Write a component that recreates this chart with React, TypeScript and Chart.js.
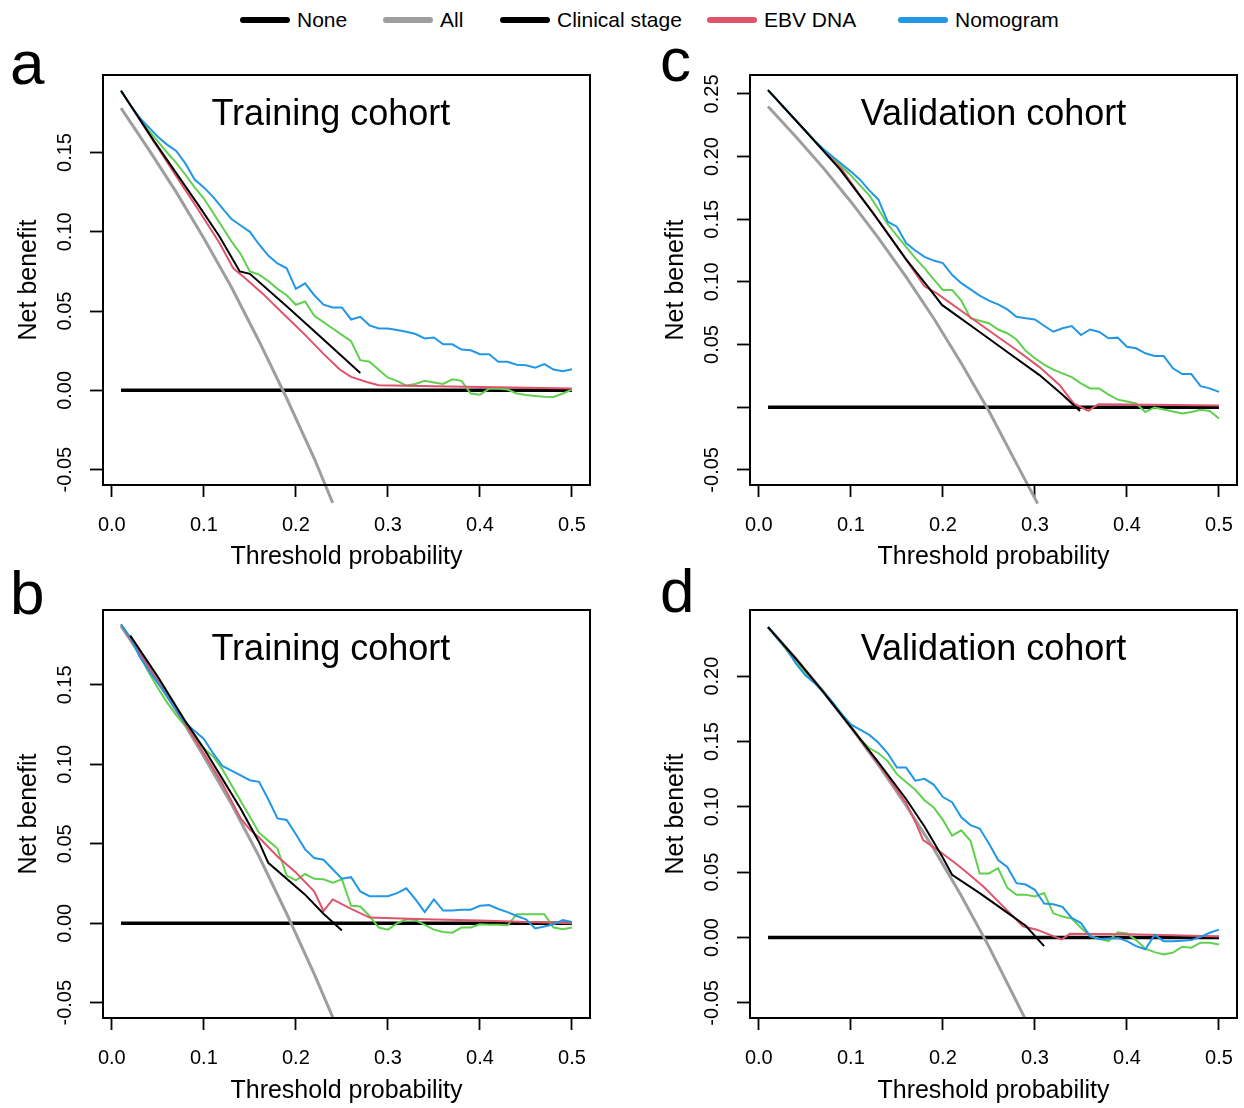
import { useEffect, useRef } from 'react';
import { Chart, registerables } from 'chart.js';

Chart.register(...registerables);

const FONT = '"Liberation Sans", Arial, Helvetica, sans-serif';
const BLACK = '#000000';
const GRAY = '#9E9E9E';
const RED = '#DF536B';
const GREEN = '#61D04F';
const BLUE = '#2297E6';

// threshold grid for the stepwise model curves
const thresholds = [
  0.01, 0.02, 0.03, 0.04, 0.05, 0.06, 0.07, 0.08, 0.09, 0.1,
  0.11, 0.12, 0.13, 0.14, 0.15, 0.16, 0.17, 0.18, 0.19, 0.2,
  0.21, 0.22, 0.23, 0.24, 0.25, 0.26, 0.27, 0.28, 0.29, 0.3,
  0.31, 0.32, 0.33, 0.34, 0.35, 0.36, 0.37, 0.38, 0.39, 0.4,
  0.41, 0.42, 0.43, 0.44, 0.45, 0.46, 0.47, 0.48, 0.49, 0.5,
];

const xTicks = [0, 0.1, 0.2, 0.3, 0.4, 0.5];
const xLabels = ['0.0', '0.1', '0.2', '0.3', '0.4', '0.5'];

const noneX = [0.01, 0.5];
const noneY = [0, 0];

// a: training cohort
const aAllX = [0.01, 0.04, 0.07, 0.1, 0.13, 0.16, 0.19, 0.22, 0.24];
const aAllY = [0.178, 0.152, 0.125, 0.096, 0.065, 0.031, -0.005, -0.043, -0.071];
const aClinX = [0.01, 0.045, 0.07, 0.095, 0.117, 0.139, 0.15, 0.19, 0.23, 0.27];
const aClinY = [0.189, 0.158, 0.137, 0.116, 0.097, 0.075, 0.0735, 0.053, 0.032, 0.011];
const aEbvX = [0.01, 0.03, 0.05, 0.07, 0.095, 0.117, 0.132, 0.143, 0.164, 0.186, 0.21, 0.23, 0.248, 0.26, 0.277, 0.29, 0.35, 0.42, 0.5];
const aEbvY = [0.189, 0.171, 0.153, 0.135, 0.113, 0.093, 0.077, 0.0717, 0.061, 0.0485, 0.035, 0.023, 0.013, 0.0085, 0.0053, 0.0032, 0.0026, 0.002, 0.0012];
const aNomoY = [
  0.189, 0.18, 0.172, 0.166, 0.16, 0.155, 0.151, 0.143, 0.133, 0.128,
  0.122, 0.115, 0.108, 0.104, 0.1, 0.092, 0.085, 0.08, 0.077, 0.064,
  0.0675, 0.06, 0.054, 0.0523, 0.0523, 0.0447, 0.0464, 0.041, 0.039, 0.039,
  0.038, 0.037, 0.0355, 0.0327, 0.0333, 0.029, 0.029, 0.0257, 0.0253, 0.0228,
  0.0228, 0.018, 0.018, 0.0162, 0.0158, 0.0143, 0.0165, 0.0131, 0.012, 0.0133,
];
const aGreenY = [
  0.189, 0.18, 0.172, 0.164, 0.157, 0.15, 0.1435, 0.136, 0.128, 0.121,
  0.112, 0.103, 0.094, 0.086, 0.075, 0.073, 0.069, 0.064, 0.06, 0.054,
  0.056, 0.047, 0.043, 0.039, 0.035, 0.031, 0.019, 0.018, 0.013, 0.008,
  0.006, 0.003, 0.004, 0.006, 0.005, 0.004, 0.007, 0.006, -0.002, -0.0027,
  0.001, 0.001, 0.0005, -0.002, -0.003, -0.0035, -0.004, -0.0042, -0.002, 0.0005,
];

// b: training cohort
const bAllX = [0.01, 0.04, 0.07, 0.1, 0.13, 0.16, 0.19, 0.22, 0.24];
const bAllY = [0.187, 0.161, 0.134, 0.105, 0.075, 0.042, 0.006, -0.032, -0.059];
const bClinX = [0.02, 0.05, 0.08, 0.1, 0.12, 0.14, 0.16, 0.17, 0.19, 0.21, 0.23, 0.25];
const bClinY = [0.181, 0.155, 0.127, 0.11, 0.091, 0.072, 0.051, 0.038, 0.028, 0.018, 0.006, -0.0045];
const bEbvX = [0.01, 0.04, 0.07, 0.1, 0.12, 0.14, 0.15, 0.16, 0.18, 0.2, 0.22, 0.23, 0.24, 0.26, 0.28, 0.34, 0.4, 0.45, 0.5];
const bEbvY = [0.188, 0.161, 0.134, 0.107, 0.088, 0.066, 0.059, 0.054, 0.042, 0.032, 0.02, 0.0077, 0.015, 0.009, 0.0036, 0.0025, 0.0018, 0.0008, 0];
const bNomoY = [
  0.188, 0.18, 0.168, 0.159, 0.151, 0.143, 0.134, 0.126, 0.121, 0.116,
  0.107, 0.099, 0.096, 0.093, 0.09, 0.089, 0.078, 0.066, 0.065, 0.056,
  0.0465, 0.041, 0.04, 0.034, 0.028, 0.029, 0.02, 0.017, 0.017, 0.017,
  0.019, 0.022, 0.015, 0.007, 0.015, 0.008, 0.008, 0.0085, 0.0085, 0.011,
  0.0115, 0.009, 0.007, 0.0046, 0.0025, -0.0033, -0.002, -0.0006, 0.0021, 0.0008,
];
const bGreenY = [
  0.188, 0.18, 0.169, 0.158, 0.148, 0.139, 0.131, 0.124, 0.117, 0.11,
  0.105, 0.097, 0.087, 0.077, 0.067, 0.057, 0.052, 0.047, 0.03, 0.027,
  0.031, 0.028, 0.0277, 0.0256, 0.0277, 0.011, 0.0105, 0.0046, -0.0027, -0.004,
  0, 0.0025, 0.002, -0.001, -0.004, -0.0055, -0.0059, -0.0027, -0.0027, -0.0006,
  -0.001, -0.001, -0.0013, 0.0057, 0.0057, 0.0057, 0.0057, -0.0027, -0.0038, -0.0027,
];

// c: validation cohort
const cAllX = [0.01, 0.04, 0.07, 0.1, 0.13, 0.16, 0.19, 0.22, 0.25, 0.28, 0.303];
const cAllY = [0.24, 0.216, 0.191, 0.164, 0.135, 0.104, 0.071, 0.035, -0.003, -0.045, -0.077];
const cClinX = [0.01, 0.05, 0.088, 0.124, 0.16, 0.186, 0.199, 0.24, 0.27, 0.305, 0.33, 0.349];
const cClinY = [0.253, 0.221, 0.19, 0.155, 0.118, 0.094, 0.0816, 0.06, 0.044, 0.0256, 0.01, -0.003];
const cEbvX = [0.01, 0.04, 0.07, 0.09, 0.11, 0.135, 0.16, 0.18, 0.193, 0.229, 0.26, 0.28, 0.305, 0.327, 0.342, 0.358, 0.369, 0.4, 0.45, 0.5];
const cEbvY = [0.253, 0.229, 0.205, 0.19, 0.169, 0.144, 0.118, 0.0965, 0.091, 0.0722, 0.056, 0.0456, 0.032, 0.0176, 0.003, -0.003, 0.0024, 0.0022, 0.0018, 0.0014];
const cNomoY = [
  0.253, 0.245, 0.237, 0.229, 0.221, 0.213, 0.206, 0.2, 0.194, 0.188,
  0.1816, 0.173, 0.1656, 0.148, 0.144, 0.131, 0.125, 0.12, 0.117, 0.115,
  0.1056, 0.099, 0.094, 0.089, 0.085, 0.082, 0.078, 0.0722, 0.071, 0.07,
  0.065, 0.0602, 0.063, 0.0648, 0.0576, 0.062, 0.06, 0.055, 0.0555, 0.0482,
  0.047, 0.043, 0.0408, 0.0408, 0.031, 0.0264, 0.0264, 0.0168, 0.015, 0.0122,
];
const cGreenY = [
  0.253, 0.245, 0.237, 0.229, 0.221, 0.213, 0.206, 0.199, 0.192, 0.185,
  0.177, 0.169, 0.158, 0.146, 0.137, 0.128, 0.119, 0.111, 0.102, 0.0936,
  0.0936, 0.085, 0.071, 0.069, 0.067, 0.062, 0.059, 0.054, 0.045, 0.039,
  0.034, 0.03, 0.027, 0.024, 0.019, 0.015, 0.015, 0.01, 0.006, 0.0045,
  0.003, -0.0038, -0.0002, -0.0018, -0.0035, -0.005, -0.0038, -0.002, -0.003, -0.009,
];

// d: validation cohort
const dAllX = [0.01, 0.04, 0.07, 0.1, 0.13, 0.16, 0.19, 0.22, 0.25, 0.28, 0.29];
const dAllY = [0.2375, 0.2135, 0.188, 0.161, 0.132, 0.101, 0.068, 0.032, -0.007, -0.049, -0.063];
const dClinX = [0.01, 0.04, 0.07, 0.1, 0.13, 0.16, 0.18, 0.2, 0.21, 0.24, 0.27, 0.29, 0.31];
const dClinY = [0.2375, 0.2135, 0.188, 0.161, 0.134, 0.106, 0.085, 0.061, 0.048, 0.034, 0.019, 0.009, -0.0066];
const dEbvX = [0.01, 0.04, 0.07, 0.1, 0.13, 0.16, 0.171, 0.1786, 0.197, 0.2185, 0.244, 0.269, 0.287, 0.302, 0.32, 0.329, 0.338, 0.4, 0.45, 0.5];
const dEbvY = [0.2375, 0.2135, 0.188, 0.161, 0.133, 0.103, 0.087, 0.0745, 0.0656, 0.0542, 0.039, 0.0213, 0.0086, 0.006, 0.001, -0.0015, 0.0028, 0.0025, 0.0018, 0.0008];
const dNomoY = [
  0.2375, 0.229, 0.221, 0.21, 0.201, 0.195, 0.188, 0.18, 0.171, 0.163,
  0.159, 0.155, 0.149, 0.141, 0.13, 0.13, 0.12, 0.1214, 0.117, 0.1075,
  0.1035, 0.092, 0.086, 0.0834, 0.072, 0.0593, 0.054, 0.0416, 0.0405, 0.0365,
  0.026, 0.0255, 0.0235, 0.015, 0.011, 0.001, -0.0013, -0.0008, -0.0003, -0.0028,
  -0.0066, -0.009, 0.002, -0.0028, -0.0028, -0.0025, -0.002, 0.0005, 0.0036, 0.006,
];
const dGreenY = [
  0.2375, 0.229, 0.22, 0.211, 0.203, 0.196, 0.1886, 0.18, 0.171, 0.162,
  0.152, 0.145, 0.141, 0.135, 0.125, 0.119, 0.113, 0.105, 0.0995, 0.09,
  0.078, 0.082, 0.074, 0.049, 0.049, 0.053, 0.038, 0.0327, 0.0327, 0.0314,
  0.034, 0.0185, 0.016, 0.0145, 0.0074, 0.001, -0.001, -0.0028, 0.004, 0.003,
  -0.002, -0.0086, -0.0112, -0.0129, -0.0116, -0.0071, -0.0078, -0.004, -0.004, -0.0053,
];

const trainTicks = [-0.05, 0, 0.05, 0.1, 0.15];
const trainLabels = ['-0.05', '0.00', '0.05', '0.10', '0.15'];
const cTicks = [-0.05, 0, 0.05, 0.1, 0.15, 0.2, 0.25];
const cLabels = ['-0.05', '', '0.05', '0.10', '0.15', '0.20', '0.25'];
const dTicks = [-0.05, 0, 0.05, 0.1, 0.15, 0.2];
const dLabels = ['-0.05', '0.00', '0.05', '0.10', '0.15', '0.20'];

const legendNames = ['None', 'All', 'Clinical stage', 'EBV DNA', 'Nomogram'];
const legendColors = [BLACK, GRAY, BLACK, RED, BLUE];
const legendLeft = [240, 383, 500, 707, 898];

type Series = { x: number[]; y: number[] };

interface PanelProps {
  letter: string;
  title: string;
  titleX: number;
  yMin: number;
  yMax: number;
  yTicks: number[];
  yLabels: string[];
  all: Series;
  clin: Series;
  ebv: Series;
  nomo: Series;
  green: Series;
  allClip: number;
  box: {
    left: number; top: number; width: number; height: number;
    padTop: number; padRight: number; xAxisH: number; titlePad: number;
    letterX: number; letterY: number;
  };
}

const pts = (s: Series) => s.x.map((x, i) => ({ x, y: s.y[i] }));

const Panel = (p: PanelProps) => {
  const canvasRef = useRef<HTMLCanvasElement | null>(null);

  useEffect(() => {
    if (!canvasRef.current) return;
    const line = (label: string, s: Series, color: string, width: number, order: number) => ({
      label,
      data: pts(s),
      borderColor: color,
      borderWidth: width,
      pointRadius: 0,
      tension: 0,
      fill: false,
      order,
    });

    const decor = {
      id: 'panelDecor',
      afterDraw(chart: Chart) {
        const { ctx, chartArea: ca, scales } = chart;
        ctx.save();
        ctx.strokeStyle = BLACK;
        ctx.lineWidth = 2;
        ctx.strokeRect(ca.left, ca.top, ca.right - ca.left, ca.bottom - ca.top);
        ctx.fillStyle = BLACK;
        ctx.textAlign = 'center';
        ctx.textBaseline = 'middle';
        ctx.font = `20px ${FONT}`;
        p.yTicks.forEach((v, i) => {
          ctx.save();
          ctx.translate(ca.left - 38, scales.y.getPixelForValue(v));
          ctx.rotate(-Math.PI / 2);
          ctx.fillText(p.yLabels[i], 0, 0);
          ctx.restore();
        });
        ctx.font = `36px ${FONT}`;
        ctx.fillText(p.title, scales.x.getPixelForValue(p.titleX), ca.top + 40);
        ctx.font = `62px ${FONT}`;
        ctx.textAlign = 'left';
        ctx.textBaseline = 'alphabetic';
        ctx.fillText(p.letter, p.box.letterX, p.box.letterY);
        ctx.restore();
      },
    };

    const chart = new Chart(canvasRef.current, {
      type: 'line',
      data: {
        datasets: [
          line('Clinical stage', p.clin, BLACK, 2, 1),
          line('Nomogram', p.nomo, BLUE, 2, 2),
          line('EBV DNA', p.ebv, RED, 2, 3),
          line('Model', p.green, GREEN, 2, 4),
          { ...line('All', p.all, GRAY, 3, 5), clip: { left: 0, top: 0, right: 0, bottom: p.allClip } },
          line('None', { x: noneX, y: noneY }, BLACK, 3.5, 6),
        ],
      },
      options: {
        animation: false,
        responsive: false,
        layout: { padding: { top: p.box.padTop, right: p.box.padRight, left: 0, bottom: 0 } },
        plugins: { legend: { display: false }, tooltip: { enabled: false } },
        scales: {
          x: {
            type: 'linear',
            min: -0.0096,
            max: 0.5196,
            afterBuildTicks: (s: any) => { s.ticks = xTicks.map((value) => ({ value })); },
            afterFit: (s: any) => { s.height = p.box.xAxisH; },
            grid: { drawOnChartArea: false, drawTicks: true, tickLength: 12, tickColor: BLACK, tickWidth: 1.8 },
            border: { display: false },
            ticks: {
              color: BLACK,
              font: { family: FONT, size: 20 },
              padding: 16,
              maxRotation: 0,
              minRotation: 0,
              autoSkip: false,
              callback: (_v: any, i: number) => xLabels[i],
            },
            title: {
              display: true,
              text: 'Threshold probability',
              color: BLACK,
              font: { family: FONT, size: 25 },
              padding: { top: 0, bottom: p.box.titlePad },
            },
          },
          y: {
            type: 'linear',
            min: p.yMin,
            max: p.yMax,
            afterBuildTicks: (s: any) => { s.ticks = p.yTicks.map((value) => ({ value })); },
            afterFit: (s: any) => { s.width = 103; },
            grid: { drawOnChartArea: false, drawTicks: true, tickLength: 13, tickColor: BLACK, tickWidth: 1.8 },
            border: { display: false },
            ticks: { display: false },
            title: {
              display: true,
              text: 'Net benefit',
              color: BLACK,
              font: { family: FONT, size: 25 },
              padding: { top: 14, bottom: 0 },
            },
          },
        },
      },
      plugins: [decor],
    });

    return () => chart.destroy();
  }, [p]);

  return (
    <canvas
      ref={canvasRef}
      width={p.box.width}
      height={p.box.height}
      style={{ position: 'absolute', left: p.box.left, top: p.box.top, width: p.box.width, height: p.box.height }}
    />
  );
};

const panels: PanelProps[] = [
  {
    letter: 'a', title: 'Training cohort', titleX: 0.238,
    yMin: -0.0597, yMax: 0.1989, yTicks: trainTicks, yLabels: trainLabels,
    all: { x: aAllX, y: aAllY }, clin: { x: aClinX, y: aClinY }, ebv: { x: aEbvX, y: aEbvY },
    nomo: { x: thresholds, y: aNomoY }, green: { x: thresholds, y: aGreenY }, allClip: 25,
    box: { left: 0, top: 40, width: 622, height: 540, padTop: 35, padRight: 32, xAxisH: 95, titlePad: 8, letterX: 10, letterY: 44 },
  },
  {
    letter: 'b', title: 'Training cohort', titleX: 0.238,
    yMin: -0.0596, yMax: 0.1971, yTicks: trainTicks, yLabels: trainLabels,
    all: { x: bAllX, y: bAllY }, clin: { x: bClinX, y: bClinY }, ebv: { x: bEbvX, y: bEbvY },
    nomo: { x: thresholds, y: bNomoY }, green: { x: thresholds, y: bGreenY }, allClip: 0,
    box: { left: 0, top: 560, width: 622, height: 548, padTop: 50, padRight: 32, xAxisH: 90, titlePad: 2, letterX: 10, letterY: 54 },
  },
  {
    letter: 'c', title: 'Validation cohort', titleX: 0.255,
    yMin: -0.0621, yMax: 0.2651, yTicks: cTicks, yLabels: cLabels,
    all: { x: cAllX, y: cAllY }, clin: { x: cClinX, y: cClinY }, ebv: { x: cEbvX, y: cEbvY },
    nomo: { x: thresholds, y: cNomoY }, green: { x: thresholds, y: cGreenY }, allClip: 25,
    box: { left: 647, top: 40, width: 617, height: 540, padTop: 35, padRight: 27, xAxisH: 95, titlePad: 8, letterX: 13, letterY: 41 },
  },
  {
    letter: 'd', title: 'Validation cohort', titleX: 0.255,
    yMin: -0.0616, yMax: 0.2506, yTicks: dTicks, yLabels: dLabels,
    all: { x: dAllX, y: dAllY }, clin: { x: dClinX, y: dClinY }, ebv: { x: dEbvX, y: dEbvY },
    nomo: { x: thresholds, y: dNomoY }, green: { x: thresholds, y: dGreenY }, allClip: 0,
    box: { left: 647, top: 560, width: 617, height: 548, padTop: 50, padRight: 27, xAxisH: 90, titlePad: 2, letterX: 13, letterY: 52 },
  },
];

const Legend = () => (
  <div style={{ position: 'absolute', left: 0, top: 0, width: 1244, height: 40 }}>
    {legendNames.map((name, i) => (
      <div
        key={name}
        style={{ position: 'absolute', left: legendLeft[i], top: 0, height: 40, display: 'flex', alignItems: 'center' }}
      >
        <div style={{ width: 50, height: 6, borderRadius: 3, background: legendColors[i] }} />
        <span style={{ marginLeft: 7, fontSize: 21, color: BLACK, whiteSpace: 'nowrap' }}>{name}</span>
      </div>
    ))}
  </div>
);

export default function App() {
  return (
    <div
      style={{
        position: 'absolute', left: 0, top: 0, width: 1244, height: 1108,
        background: '#ffffff', overflow: 'hidden', fontFamily: FONT,
      }}
    >
      <Legend />
      {panels.map((p) => <Panel key={p.letter} {...p} />)}
    </div>
  );
}
